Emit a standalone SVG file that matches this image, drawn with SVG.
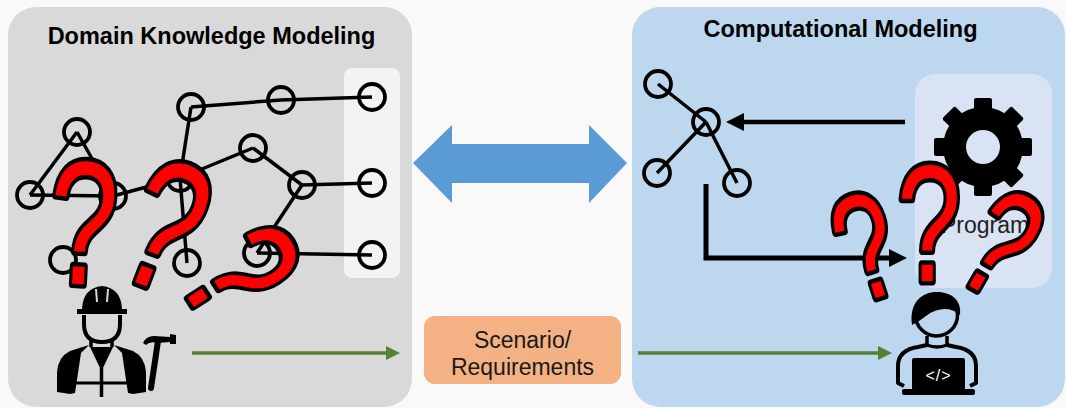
<svg xmlns="http://www.w3.org/2000/svg" width="1066" height="408" viewBox="0 0 1066 408">
  <style>
    .title { font-family: "Liberation Sans", Arial, sans-serif; font-weight: bold; font-size: 23.5px; fill: #000; text-anchor: middle; }
    .label { font-family: "Liberation Sans", Arial, sans-serif; font-size: 23px; fill: #1a1a1a; text-anchor: middle; }
    .node { fill: none; stroke: #000; stroke-width: 3.8; }
    .edge { stroke: #000; stroke-width: 3.5; fill: none; }
    .q { font-family: "Liberation Sans", Arial, sans-serif; fill: #ff0000; stroke: #000; stroke-width: 9; paint-order: stroke; stroke-linejoin: round; text-anchor: middle; }
    .flow { stroke: #548235; stroke-width: 3.5; fill: none; }
    .link { stroke: #000; fill: none; }
  </style>
  <defs>
    <marker id="greenHead" markerUnits="userSpaceOnUse" markerWidth="14" markerHeight="14" refX="1" refY="7" orient="auto">
      <path d="M0,0 L14,7 L0,14 Z" fill="#548235"/>
    </marker>
    <marker id="blackHead" markerUnits="userSpaceOnUse" markerWidth="18" markerHeight="18" refX="1" refY="9" orient="auto">
      <path d="M0,0 L18,9 L0,18 Z" fill="#000"/>
    </marker>
  </defs>

  <rect width="1066" height="408" fill="#f9f9f9"/>

  <!-- panels -->
  <g id="domain-panel">
    <rect x="8" y="7" width="404" height="400" rx="28" fill="#d9d9d9"/>
    <rect x="344" y="68" width="56" height="210" rx="8" fill="#f3f3f3"/>
    <text class="title" x="211.5" y="44">Domain Knowledge Modeling</text>
  </g>
  <g id="computational-panel">
    <rect x="632" y="7" width="433" height="400" rx="28" fill="#bdd7ee"/>
    <rect x="915" y="74" width="137" height="214" rx="20" fill="#dae3f3"/>
    <text class="title" x="840.5" y="37">Computational Modeling</text>
  </g>

  <!-- knowledge graph -->
  <g id="knowledge-graph">
    <g class="edge">
      <line x1="77" y1="132" x2="30" y2="195"/>
      <line x1="77" y1="132" x2="113" y2="196"/>
      <line x1="30" y1="195" x2="113" y2="196"/>
      <line x1="113" y1="196" x2="180" y2="178"/>
      <line x1="180" y1="178" x2="191" y2="107"/>
      <line x1="191" y1="107" x2="281" y2="100"/>
      <line x1="281" y1="100" x2="372" y2="97"/>
      <line x1="180" y1="178" x2="253" y2="148"/>
      <line x1="253" y1="148" x2="302" y2="185"/>
      <line x1="302" y1="185" x2="372" y2="183"/>
      <line x1="302" y1="185" x2="257" y2="253"/>
      <line x1="257" y1="253" x2="372" y2="255"/>
      <line x1="180" y1="178" x2="187" y2="263"/>
    </g>
    <g class="node">
      <circle cx="77" cy="132" r="13"/>
      <circle cx="30" cy="195" r="13"/>
      <circle cx="113" cy="196" r="13"/>
      <circle cx="63" cy="260" r="13"/>
      <circle cx="180" cy="178" r="13"/>
      <circle cx="191" cy="107" r="13"/>
      <circle cx="281" cy="100" r="13"/>
      <circle cx="372" cy="97" r="13"/>
      <circle cx="253" cy="148" r="13"/>
      <circle cx="302" cy="185" r="13"/>
      <circle cx="372" cy="183" r="13"/>
      <circle cx="257" cy="253" r="13"/>
      <circle cx="372" cy="255" r="13"/>
      <circle cx="187" cy="263" r="13"/>
    </g>
  </g>

  <!-- program tree -->
  <g id="program-tree">
    <g class="edge">
      <line x1="658" y1="84" x2="706" y2="122"/>
      <line x1="706" y1="122" x2="657" y2="173"/>
      <line x1="706" y1="122" x2="737" y2="183"/>
    </g>
    <g class="node">
      <circle cx="658" cy="84" r="13"/>
      <circle cx="706" cy="122" r="13"/>
      <circle cx="657" cy="173" r="13"/>
      <circle cx="737" cy="183" r="13"/>
    </g>
  </g>

  <!-- gear of the program box -->
  <g id="program-gear">
    <g fill="#000">
      <circle cx="983" cy="147" r="40"/>
      <rect x="974" y="98" width="18" height="16" rx="2"/>
      <rect x="974" y="98" width="18" height="16" rx="2" transform="rotate(45 983 147)"/>
      <rect x="974" y="98" width="18" height="16" rx="2" transform="rotate(90 983 147)"/>
      <rect x="974" y="98" width="18" height="16" rx="2" transform="rotate(135 983 147)"/>
      <rect x="974" y="98" width="18" height="16" rx="2" transform="rotate(180 983 147)"/>
      <rect x="974" y="98" width="18" height="16" rx="2" transform="rotate(225 983 147)"/>
      <rect x="974" y="98" width="18" height="16" rx="2" transform="rotate(270 983 147)"/>
      <rect x="974" y="98" width="18" height="16" rx="2" transform="rotate(315 983 147)"/>
    </g>
    <circle cx="983" cy="147" r="17" fill="#dae3f3"/>
    <text class="label" x="985" y="233" style="fill:#222">Program</text>
  </g>

  <!-- connectors -->
  <g id="connectors">
    <polygon points="413,163 452,125 452,144 589,144 589,125 627,163 589,203 589,183 452,183 452,203" fill="#5b9bd5"/>
    <line class="link" x1="905" y1="122" x2="743" y2="122" stroke-width="4.5" marker-end="url(#blackHead)"/>
    <path class="link" d="M706,184 L706,258 L890,258" stroke-width="5" marker-end="url(#blackHead)"/>
    <line class="flow" x1="192" y1="353" x2="387" y2="353" marker-end="url(#greenHead)"/>
    <line class="flow" x1="638" y1="353" x2="879" y2="353" marker-end="url(#greenHead)"/>
  </g>

  <!-- scenario / requirements -->
  <g id="scenario">
    <rect x="424" y="316" width="197" height="68" rx="11" fill="#f4b183"/>
    <text class="label" x="522.5" y="348">Scenario/</text>
    <text class="label" x="522.5" y="375">Requirements</text>
  </g>

  <!-- domain expert with hammer -->
  <g id="domain-expert" fill="#000">
    <path d="M77,314 L127,314 L127,309 L122,309 Q121,288 102,286 Q83,288 82,309 L77,309 Z"/>
    <line x1="96" y1="289" x2="97" y2="302" stroke="#d9d9d9" stroke-width="2"/>
    <line x1="108" y1="289" x2="107" y2="302" stroke="#d9d9d9" stroke-width="2"/>
    <path d="M84,315 L84,324 Q84,342 102,342 Q120,342 120,324 L120,315" fill="none" stroke="#000" stroke-width="4"/>
    <path d="M91,339 L91,347 M112,339 L112,347" stroke="#000" stroke-width="3.5"/>
    <path d="M89,345 L70,351 Q58,357 57,372 L57,392 L70,394 L75,393 L81,353 Z"/>
    <path d="M114,345 L133,351 Q145,357 146,372 L146,392 L133,394 L128,393 L122,353 Z"/>
    <path d="M90,347 L113,347 L101.5,371 Z"/>
    <line x1="101.5" y1="368" x2="101.5" y2="397" stroke="#000" stroke-width="3.5"/>
    <line x1="75" y1="383" x2="128" y2="383" stroke="#000" stroke-width="3"/>
    <line x1="151" y1="388" x2="158" y2="341" stroke="#000" stroke-width="6" stroke-linecap="round"/>
    <path d="M143,343 Q146,336 154,336 L170,337 L170,334 L176,335 L176,344 L170,344 L170,342 L157,343 Q150,341 146,345 Z"/>
  </g>

  <!-- programmer at laptop -->
  <g id="programmer" fill="#000">
    <ellipse cx="936.5" cy="315" rx="21" ry="21" fill="none" stroke="#000" stroke-width="3.5"/>
    <path d="M912,325 C909,302 922,292 937,292 C952,292 962,301 960,315 C951,307 938,307 926,316 C921,320 916,323 912,325 Z"/>
    <path d="M927,336 L927,345 Q937,349 947,345 L947,336" fill="none" stroke="#000" stroke-width="3.5"/>
    <path d="M904,386 L898,383 L898,366 Q898,350 918,347 L927,345 M947,345 L956,347 Q976,350 976,366 L976,383 L970,386" fill="none" stroke="#000" stroke-width="4" stroke-linejoin="round"/>
    <rect x="912" y="358" width="53" height="32" rx="2"/>
    <rect x="902" y="389" width="73" height="6" rx="2"/>
    <text x="938.5" y="381" style="font-family:'Liberation Sans',Arial,sans-serif;font-size:16px;fill:#fff;text-anchor:middle;letter-spacing:1px">&lt;/&gt;</text>
  </g>

  <!-- question marks -->
  <g id="question-marks">
    <text class="q" font-size="176" transform="translate(80,284) rotate(3) scale(0.7,1)">?</text>
    <text class="q" font-size="184" transform="translate(143,285) rotate(21) scale(0.7,1)">?</text>
    <text class="q" font-size="168" transform="translate(192,304) rotate(57) scale(0.7,1)">?</text>
    <text class="q" font-size="150" transform="translate(882,296) rotate(-18) scale(0.7,1)">?</text>
    <text class="q" font-size="165" transform="translate(929,281) rotate(0) scale(0.7,1)">?</text>
    <text class="q" font-size="152" transform="translate(975,289) rotate(30) scale(0.7,1)">?</text>
  </g>
</svg>
